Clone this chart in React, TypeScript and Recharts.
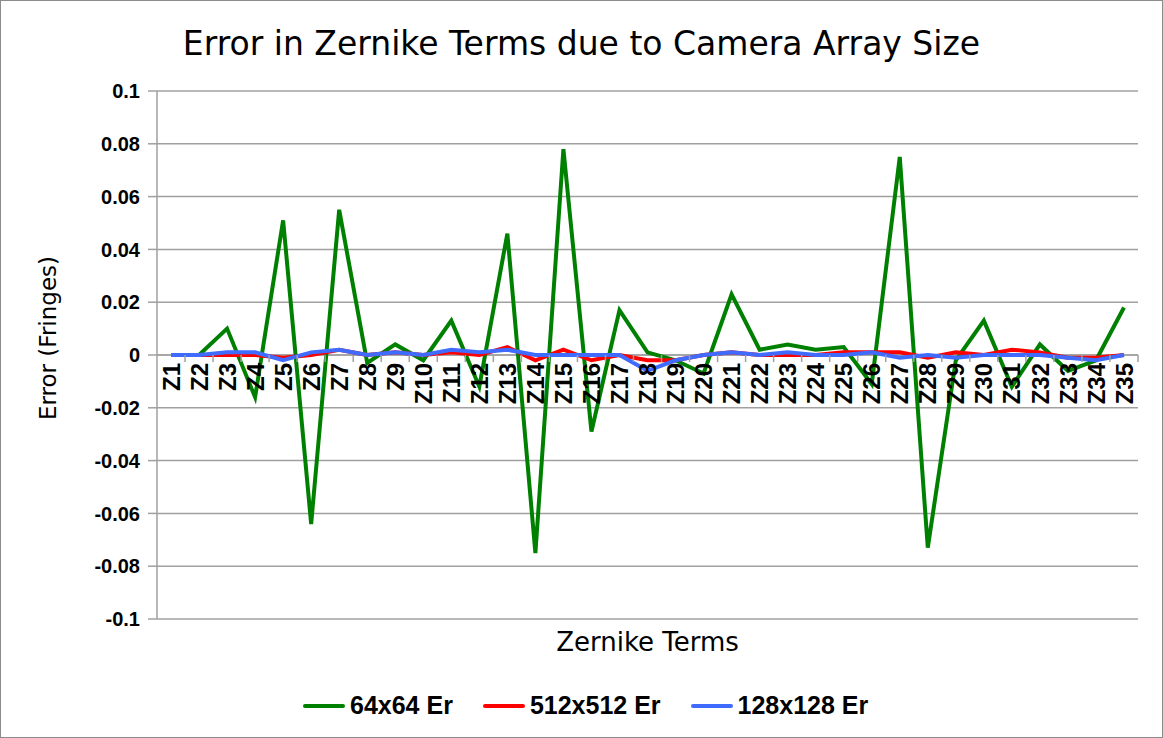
import React from 'react'
import {
  LineChart,
  Line,
  XAxis,
  YAxis,
  CartesianGrid,
  ReferenceLine
} from 'recharts'

const terms = [
  'Z1', 'Z2', 'Z3', 'Z4', 'Z5', 'Z6', 'Z7', 'Z8', 'Z9', 'Z10',
  'Z11', 'Z12', 'Z13', 'Z14', 'Z15', 'Z16', 'Z17', 'Z18', 'Z19', 'Z20',
  'Z21', 'Z22', 'Z23', 'Z24', 'Z25', 'Z26', 'Z27', 'Z28', 'Z29', 'Z30',
  'Z31', 'Z32', 'Z33', 'Z34', 'Z35'
]

const er64 = [
  0, 0, 0.01, -0.016, 0.051, -0.064, 0.055, -0.003, 0.004, -0.002,
  0.013, -0.012, 0.046, -0.075, 0.078, -0.029, 0.017, 0.001, -0.002, -0.007,
  0.023, 0.002, 0.004, 0.002, 0.003, -0.011, 0.075, -0.073, -0.002, 0.013,
  -0.012, 0.004, -0.006, -0.002, 0.018
]

const er512 = [
  0, 0, 0, 0, -0.001, 0, 0.002, 0, 0.001, 0,
  0.001, 0, 0.003, -0.002, 0.002, -0.002, 0, -0.002, -0.002, 0,
  0.001, 0, 0, 0, 0.001, 0.001, 0.001, -0.001, 0.001, 0,
  0.002, 0.001, -0.001, -0.001, 0
]

const er128 = [
  0, 0, 0.001, 0.001, -0.002, 0.001, 0.002, 0, 0.001, 0,
  0.002, 0.001, 0.002, 0, 0, 0, 0, -0.006, -0.002, 0,
  0.001, 0, 0.001, 0, 0, 0.001, -0.001, 0, -0.001, 0,
  0, 0, -0.001, -0.002, 0
]

const yTicks = [0.1, 0.08, 0.06, 0.04, 0.02, 0, -0.02, -0.04, -0.06, -0.08, -0.1]

const series = [
  { key: 'er64', name: '64x64 Er', color: '#008000' },
  { key: 'er512', name: '512x512 Er', color: '#ff0000' },
  { key: 'er128', name: '128x128 Er', color: '#3f6bff' }
]

const W = 1163
const H = 738
const Y_AXIS_W = 157
const X_AXIS_H = 30
const MARGIN = { top: 91, right: 25, left: 0, bottom: 89 }
const PLOT_W = W - Y_AXIS_W - MARGIN.right
const PLOT_H = H - MARGIN.top - MARGIN.bottom - X_AXIS_H
const Y_MIN = -0.1
const Y_MAX = 0.1
const ZERO_Y = MARGIN.top + (PLOT_H * Y_MAX) / (Y_MAX - Y_MIN)
const BAND = PLOT_W / terms.length

const GRID = '#a0a0a0'
const TITLE_FONT = '"DejaVu Sans", sans-serif'
const BOLD_FONT = '"Liberation Sans", Arial, sans-serif'

const data = terms.map((t, i) => ({
  term: t,
  er64: er64[i],
  er512: er512[i],
  er128: er128[i]
}))

// category labels hang under the zero line, not at the bottom of the plot
function TermTick(props: any) {
  const { x, payload } = props
  const ly = ZERO_Y + 8
  return (
    <g>
      <line
        x1={x + BAND / 2}
        x2={x + BAND / 2}
        y1={ZERO_Y}
        y2={ZERO_Y + 7}
        stroke={GRID}
        strokeWidth={1.5}
      />
      <text
        x={x}
        y={ly}
        transform={`rotate(-90 ${x} ${ly})`}
        textAnchor="end"
        dy="0.36em"
        fontFamily={BOLD_FONT}
        fontWeight="bold"
        fontSize={24}
        fill="#000"
      >
        {payload.value}
      </text>
    </g>
  )
}

export default function App() {
  return (
    <div
      style={{
        position: 'absolute',
        left: 0,
        top: 0,
        width: W,
        height: H,
        background: '#fff'
      }}
    >
      <LineChart width={W} height={H} data={data} margin={MARGIN}>
        <CartesianGrid vertical={false} stroke={GRID} strokeWidth={1.5} />
        <XAxis
          dataKey="term"
          interval={0}
          height={X_AXIS_H}
          padding={{ left: BAND / 2, right: BAND / 2 }}
          axisLine={false}
          tickLine={false}
          tick={<TermTick />}
        />
        <YAxis
          width={Y_AXIS_W}
          domain={[Y_MIN, Y_MAX]}
          ticks={yTicks}
          allowDataOverflow
          axisLine={{ stroke: GRID, strokeWidth: 1.5 }}
          tickLine={{ stroke: GRID, strokeWidth: 1.5 }}
          tickSize={9}
          tickMargin={8}
          tickFormatter={(v: number) => String(v)}
          tick={{
            fill: '#000',
            fontFamily: BOLD_FONT,
            fontWeight: 'bold',
            fontSize: 20
          }}
        />
        <ReferenceLine y={0} stroke={GRID} strokeWidth={1.5} />
        {series.map((s) => (
          <Line
            key={s.key}
            dataKey={s.key}
            name={s.name}
            stroke={s.color}
            strokeWidth={4}
            dot={false}
            activeDot={false}
            isAnimationActive={false}
          />
        ))}
      </LineChart>

      <div
        style={{
          position: 'absolute',
          left: 0,
          width: W,
          top: 24,
          textAlign: 'center',
          fontFamily: TITLE_FONT,
          fontSize: 33,
          color: '#000'
        }}
      >
        Error in Zernike Terms due to Camera Array Size
      </div>

      <div
        style={{
          position: 'absolute',
          left: 48,
          top: 338,
          transform: 'translate(-50%, -50%) rotate(-90deg)',
          whiteSpace: 'nowrap',
          fontFamily: TITLE_FONT,
          fontSize: 23,
          color: '#000'
        }}
      >
        Error (Fringes)
      </div>

      <div
        style={{
          position: 'absolute',
          left: 0,
          width: Y_AXIS_W * 2 + PLOT_W,
          top: 627,
          textAlign: 'center',
          fontFamily: TITLE_FONT,
          fontSize: 26,
          color: '#000'
        }}
      >
        Zernike Terms
      </div>

      <div
        style={{
          position: 'absolute',
          left: 303,
          top: 691,
          display: 'flex',
          alignItems: 'center',
          gap: 30,
          fontFamily: BOLD_FONT,
          fontWeight: 'bold',
          fontSize: 25,
          color: '#000'
        }}
      >
        {series.map((s) => (
          <div key={s.key} style={{ display: 'flex', alignItems: 'center' }}>
            <span
              style={{
                display: 'inline-block',
                width: 42,
                height: 4,
                borderRadius: 2,
                background: s.color,
                marginRight: 5
              }}
            />
            {s.name}
          </div>
        ))}
      </div>

      <div
        style={{
          position: 'absolute',
          left: 0,
          top: 0,
          width: W - 2,
          height: H - 2,
          border: '1px solid #8c8c8c',
          pointerEvents: 'none'
        }}
      />
    </div>
  )
}
